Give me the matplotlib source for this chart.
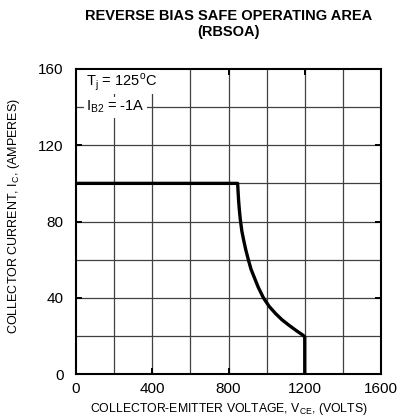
import matplotlib
matplotlib.use("Agg")
import matplotlib.pyplot as plt

# RBSOA boundary
vce = [0, 848, 850, 853, 857, 862, 870, 880, 891, 904, 918, 934, 956, 983,
       1013, 1047, 1080, 1117, 1155, 1190, 1200, 1200]
ic = [100, 100, 96, 91, 86, 81, 75, 70, 65, 60, 55, 51, 45.5, 40,
      35.5, 31.7, 28.5, 25.6, 22.8, 20.4, 19.5, 0]

xticks = [0, 400, 800, 1200, 1600]
yticks = [0, 40, 80, 120, 160]

plt.rcParams['font.family'] = ['Liberation Sans', 'DejaVu Sans']
plt.rcParams['mathtext.fontset'] = 'custom'
plt.rcParams['mathtext.rm'] = 'Liberation Sans'

fig = plt.figure(figsize=(4.01, 4.18), dpi=100)
ax = fig.add_axes([76 / 401, 44 / 418, 305 / 401, 305 / 418])

ax.set_xlim(0, 1600)
ax.set_ylim(0, 160)
for v in range(200, 1600, 200):
    ax.axvline(v, color='0.25', lw=0.9, zorder=1)
for i in range(20, 160, 20):
    ax.axhline(i, color='0.25', lw=0.9, zorder=1)

ax.plot(vce, ic, color='black', lw=2.4, solid_joinstyle='round', zorder=3)

ax.set_xticks(xticks)
ax.set_yticks(yticks)
ax.tick_params(direction='in', length=4, width=1.4, top=True, right=True,
               labelsize=11)
ax.tick_params(axis='x', pad=6)
ax.tick_params(axis='y', pad=9)
for s in ax.spines.values():
    s.set_linewidth(1.5)

ax.text(55, 153, r'T$_\mathregular{j}$ = 125$^\mathregular{o}$C', fontsize=10.5,
        va='center', ha='left', zorder=4,
        bbox=dict(facecolor='white', edgecolor='none', pad=1))
ax.text(52, 140, r'I$_\mathregular{B2}$ = -1A', fontsize=10.5,
        va='center', ha='left', zorder=4,
        bbox=dict(facecolor='white', edgecolor='none', pad=1.5))

fig.text(228.5 / 401, 1 - 24 / 418,
         'REVERSE BIAS SAFE OPERATING AREA\n(RBSOA)', ha='center', va='center',
         fontsize=10.5, fontweight='bold', linespacing=1.15)
fig.text(228.5 / 401, 1 / 418,
         r'COLLECTOR-EMITTER VOLTAGE, V$_\mathregular{CE}$, (VOLTS)',
         ha='center', va='bottom', fontsize=8.8)
fig.text(14 / 401, 1 - 216 / 418,
         r'COLLECTOR CURRENT, I$_\mathregular{C}$, (AMPERES)',
         ha='center', va='center', rotation=90, fontsize=9)

fig.savefig('out.png', dpi=100)
